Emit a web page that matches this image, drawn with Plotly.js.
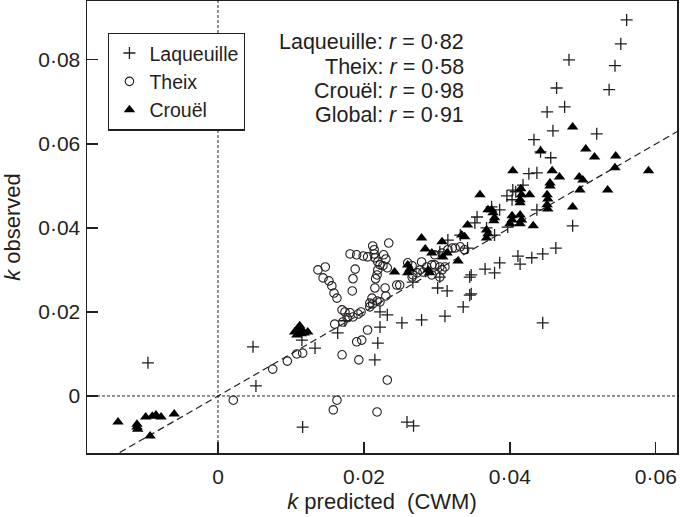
<!DOCTYPE html>
<html><head><meta charset="utf-8">
<script src="https://cdn.plot.ly/plotly-3.0.1.min.js"></script>
<style>html,body{margin:0;padding:0;background:#fff}#chart{width:680px;height:517px}</style>
</head><body><div id="chart"></div>
<script>
// ---- data ----
const laqueuilleX = [0.0560,0.0552,0.0544,0.0536,0.0481,0.0464,0.0475,0.0451,0.0459,0.0433,0.0519,0.0442,0.0456,0.0426,0.0437,0.0418,0.0404,0.0408,0.0396,0.0403,0.0375,0.0386,0.0437,0.0355,0.0352,0.0368,0.0397,0.0379,0.0486,0.0463,0.0445,0.0430,0.0411,0.0414,0.0386,0.0366,0.0379,0.0347,0.0347,0.0445,0.0332,0.0315,0.0342,0.0304,0.0304,0.0301,0.0314,0.0345,0.0345,0.0336,0.0267,0.0311,0.0279,0.0252,0.0232,0.0222,0.0222,0.0219,0.0215,0.0259,0.0268,-0.0096,0.0048,0.0052,0.0116,0.0133,0.0164,0.0115,0.0174];
const laqueuilleY = [0.0895,0.0838,0.0786,0.0729,0.0800,0.0733,0.0688,0.0676,0.0631,0.0610,0.0624,0.0581,0.0567,0.0529,0.0531,0.0502,0.0490,0.0486,0.0476,0.0467,0.0450,0.0443,0.0443,0.0426,0.0412,0.0400,0.0402,0.0383,0.0405,0.0352,0.0338,0.0329,0.0333,0.0314,0.0317,0.0302,0.0293,0.0288,0.0243,0.0174,0.0383,0.0371,0.0352,0.0343,0.0283,0.0257,0.0250,0.0283,0.0240,0.0212,0.0271,0.0190,0.0181,0.0174,0.0193,0.0200,0.0164,0.0126,0.0086,-0.0062,-0.0071,0.0079,0.0117,0.0024,-0.0074,0.0114,0.0150,0.0133,0.0179];

const theixX = [0.0212,0.0214,0.0214,0.0215,0.0219,0.0222,0.0219,0.0218,0.0216,0.0227,0.0234,0.0230,0.0226,0.0232,0.0181,0.0190,0.0199,0.0205,0.0188,0.0185,0.0184,0.0137,0.0147,0.0144,0.0152,0.0156,0.0159,0.0163,0.0215,0.0229,0.0230,0.0245,0.0249,0.0211,0.0218,0.0208,0.0170,0.0174,0.0181,0.0185,0.0192,0.0177,0.0171,0.0160,0.0196,0.0208,0.0212,0.0222,0.0205,0.0190,0.0197,0.0170,0.0193,0.0232,0.0163,0.0158,0.0218,0.0021,0.0075,0.0095,0.0108,0.0116,0.0260,0.0266,0.0267,0.0277,0.0279,0.0286,0.0293,0.0297,0.0304,0.0311,0.0315,0.0321,0.0325,0.0332,0.0338,0.0307,0.0281,0.0273,0.0266,0.0304,0.0293,0.0297,0.0307];
const theixY = [0.0357,0.0348,0.0338,0.0329,0.0319,0.0312,0.0300,0.0288,0.0279,0.0336,0.0364,0.0326,0.0310,0.0305,0.0338,0.0336,0.0333,0.0331,0.0302,0.0279,0.0250,0.0300,0.0307,0.0281,0.0274,0.0262,0.0245,0.0233,0.0257,0.0257,0.0238,0.0264,0.0264,0.0233,0.0226,0.0221,0.0205,0.0200,0.0198,0.0188,0.0195,0.0186,0.0176,0.0171,0.0200,0.0212,0.0219,0.0224,0.0157,0.0129,0.0133,0.0098,0.0086,0.0038,-0.0010,-0.0033,-0.0038,-0.0010,0.0064,0.0083,0.0100,0.0102,0.0317,0.0310,0.0288,0.0300,0.0319,0.0307,0.0312,0.0312,0.0307,0.0307,0.0348,0.0352,0.0352,0.0355,0.0348,0.0300,0.0295,0.0293,0.0283,0.0283,0.0288,0.0336,0.0340];

const crouelX = [-0.0137,-0.0111,-0.0111,-0.0110,-0.0099,-0.0090,-0.0085,-0.0078,-0.0060,-0.0093,0.0105,0.0110,0.0112,0.0115,0.0118,0.0123,0.0108,0.0114,0.0486,0.0442,0.0504,0.0516,0.0545,0.0544,0.0590,0.0404,0.0458,0.0468,0.0495,0.0500,0.0455,0.0455,0.0496,0.0534,0.0486,0.0427,0.0415,0.0416,0.0414,0.0414,0.0451,0.0452,0.0451,0.0452,0.0359,0.0370,0.0375,0.0377,0.0379,0.0378,0.0403,0.0403,0.0414,0.0416,0.0414,0.0400,0.0432,0.0368,0.0370,0.0368,0.0342,0.0334,0.0338,0.0279,0.0307,0.0284,0.0293,0.0308,0.0314,0.0329,0.0242,0.0260,0.0263,0.0260,0.0288,0.0290];
const crouelY = [-0.0062,-0.0067,-0.0074,-0.0079,-0.0050,-0.0048,-0.0045,-0.0050,-0.0043,-0.0095,0.0152,0.0162,0.0167,0.0157,0.0150,0.0152,0.0145,0.0148,0.0640,0.0583,0.0588,0.0569,0.0571,0.0543,0.0536,0.0536,0.0536,0.0521,0.0521,0.0514,0.0507,0.0500,0.0490,0.0490,0.0450,0.0479,0.0493,0.0479,0.0467,0.0460,0.0479,0.0469,0.0455,0.0445,0.0479,0.0443,0.0443,0.0436,0.0424,0.0417,0.0429,0.0419,0.0431,0.0419,0.0410,0.0410,0.0405,0.0395,0.0386,0.0376,0.0407,0.0383,0.0379,0.0376,0.0367,0.0350,0.0340,0.0331,0.0340,0.0321,0.0295,0.0312,0.0302,0.0293,0.0300,0.0293];

// 1:1 reference line
const oneToOneX = [-0.02, 0.07];
const oneToOneY = [-0.02, 0.07];

const seriesNames = ['Laqueuille', 'Theix', 'Crouël'];
const statLabels = ['Laqueuille', 'Theix', 'Crouël', 'Global'];
const statR = ['0·82', '0·58', '0·98', '0·91'];

const xTickVals = [0, 0.02, 0.04, 0.06];
const xTickText = ['0', '0·02', '0·04', '0·06'];
const yTickVals = [0, 0.02, 0.04, 0.06, 0.08];
const yTickText = ['0', '0·02', '0·04', '0·06', '0·08'];

// ---- chart ----
const FONT = 'Liberation Sans, Arial, Helvetica, sans-serif';
const INK = '#231f20';

const traces = [
  { x: oneToOneX, y: oneToOneY, mode: 'lines', showlegend: false, hoverinfo: 'skip',
    line: { color: INK, width: 1.2, dash: '7px,4px' } },
  { x: laqueuilleX, y: laqueuilleY, mode: 'markers', name: seriesNames[0], type: 'scatter',
    marker: { symbol: 'cross-thin', size: 8.6, color: INK, line: { color: INK, width: 1.3 } } },
  { x: theixX, y: theixY, mode: 'markers', name: seriesNames[1], type: 'scatter',
    marker: { symbol: 'circle-open', size: 8.5, color: INK, line: { color: INK, width: 1.1 } } },
  { x: crouelX, y: crouelY, mode: 'markers', name: seriesNames[2], type: 'scatter',
    marker: { symbol: 'triangle-up', size: 10, color: '#000' } }
];

const annYs = [0.909, 0.854, 0.801, 0.748];
const annotations = statLabels.map((lab, i) => ({
  xref: 'paper', yref: 'paper', x: 0.643, y: annYs[i], xanchor: 'right', yanchor: 'middle',
  text: lab + ': <i>r</i> = ' + statR[i], showarrow: false,
  font: { family: FONT, size: 21.5, color: INK }
}));

const layout = {
  width: 680, height: 517,
  margin: { l: 87, r: 3, t: 1, b: 64, pad: 0 },
  paper_bgcolor: '#fff', plot_bgcolor: '#fff',
  font: { family: FONT, size: 21, color: INK },
  showlegend: true,
  legend: {
    x: 0.036, y: 0.93, xanchor: 'left', yanchor: 'top',
    bgcolor: '#fff', bordercolor: INK, borderwidth: 1.2,
    font: { family: FONT, size: 19.5, color: INK }, itemwidth: 30, tracegroupgap: 0
  },
  xaxis: {
    range: [-0.01795, 0.0629], showgrid: false, zeroline: false,
    showline: true, linecolor: INK, linewidth: 1.5, mirror: true,
    ticks: 'inside', ticklen: 11, tickwidth: 1.3, tickcolor: INK,
    tickvals: xTickVals, ticktext: xTickText, ticklabelstandoff: 4,
    tickfont: { family: FONT, size: 21, color: INK },
    title: { text: '<i>k</i> predicted\u00a0 (CWM)', font: { family: FONT, size: 22, color: INK }, standoff: 7 }
  },
  yaxis: {
    range: [-0.01357, 0.0940], showgrid: false, zeroline: false,
    showline: true, linecolor: INK, linewidth: 1.5, mirror: true,
    ticks: 'inside', ticklen: 11, tickwidth: 1.3, tickcolor: INK,
    tickvals: yTickVals, ticktext: yTickText, ticklabelstandoff: 1,
    tickfont: { family: FONT, size: 21, color: INK },
    title: { text: '<i>k</i> observed', font: { family: FONT, size: 22, color: INK }, standoff: 12 }
  },
  shapes: [
    { type: 'line', xref: 'x', yref: 'paper', x0: 0, x1: 0, y0: 0, y1: 1,
      line: { color: INK, width: 1, dash: '3px,2px' } },
    { type: 'line', xref: 'paper', yref: 'y', x0: 0, x1: 1, y0: 0, y1: 0,
      line: { color: INK, width: 1, dash: '3px,2px' } }
  ],
  annotations: annotations
};

Plotly.newPlot('chart', traces, layout, { displayModeBar: false, staticPlot: true });
</script>
</body></html>
